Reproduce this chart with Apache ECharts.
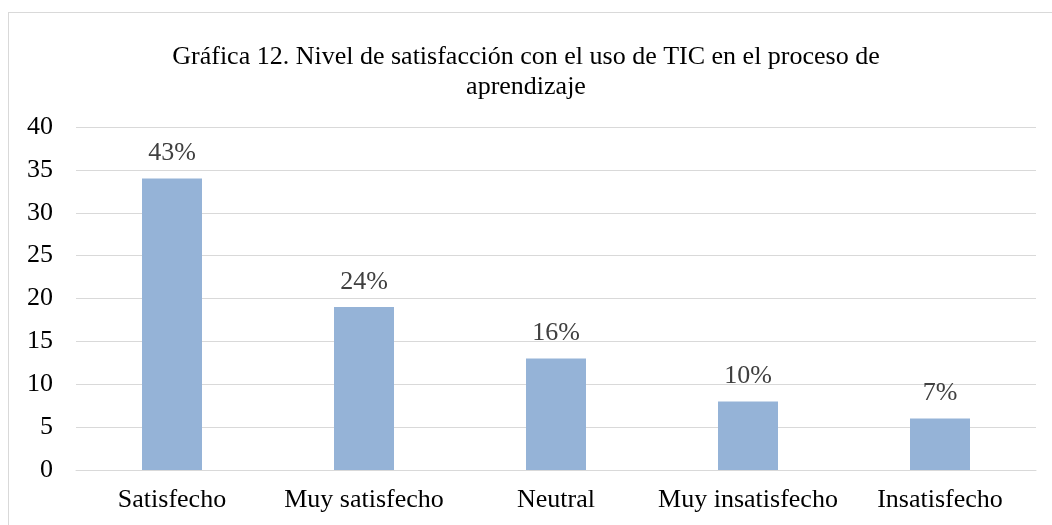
<!DOCTYPE html>
<html>
<head>
<meta charset="utf-8">
<script src="https://cdn.jsdelivr.net/npm/echarts@6/dist/echarts.min.js"></script>
<style>
  html, body { margin: 0; padding: 0; background: #ffffff; overflow: hidden; }
  #frame {
    position: absolute;
    left: 8px;
    top: 12px;
    width: 1060px;
    height: 530px;
    border: 1px solid #d9d9d9;
    box-sizing: border-box;
  }
  #chart { position: absolute; left: 0; top: 0; width: 1052px; height: 525px; }
</style>
</head>
<body>
<div id="frame"></div>
<div id="chart"></div>
<script>
var categories = ['Satisfecho', 'Muy satisfecho', 'Neutral', 'Muy insatisfecho', 'Insatisfecho']
var counts = [34, 19, 13, 8, 6]
var percents = ['43%', '24%', '16%', '10%', '7%']
var yTicks = { min: 0, max: 40, interval: 5 }

var serif = '"Liberation Serif", "DejaVu Serif", serif'
var myChart = echarts.init(document.getElementById('chart'))
myChart.setOption({
  animation: false,
  title: {
    text: 'Gráfica 12. Nivel de satisfacción con el uso de TIC en el proceso de\naprendizaje',
    left: 'center',
    top: 37,
    textStyle: {
      fontFamily: serif,
      fontSize: 26,
      fontWeight: 'normal',
      color: '#000000',
      lineHeight: 30
    }
  },
  grid: {
    left: 76,
    right: 16,
    top: 127,
    bottom: 55
  },
  xAxis: {
    type: 'category',
    data: categories,
    axisLine: { show: true, lineStyle: { color: '#d9d9d9', width: 1 } },
    axisTick: { show: false },
    axisLabel: {
      interval: 0,
      hideOverlap: false,
      fontFamily: serif,
      fontSize: 26,
      color: '#000000',
      margin: 17
    }
  },
  yAxis: {
    type: 'value',
    min: yTicks.min,
    max: yTicks.max,
    interval: yTicks.interval,
    axisLine: { show: false },
    axisTick: { show: false },
    splitLine: { lineStyle: { color: '#d9d9d9', width: 1 } },
    axisLabel: {
      fontFamily: serif,
      fontSize: 26,
      color: '#000000',
      margin: 23
    }
  },
  series: [
    {
      type: 'bar',
      data: counts,
      barWidth: 60,
      itemStyle: { color: '#95b3d7' },
      label: {
        show: true,
        position: 'top',
        distance: 12,
        fontFamily: serif,
        fontSize: 26,
        color: '#404040',
        formatter: function (p) {
          return percents[p.dataIndex]
        }
      }
    }
  ]
})
</script>
</body>
</html>
